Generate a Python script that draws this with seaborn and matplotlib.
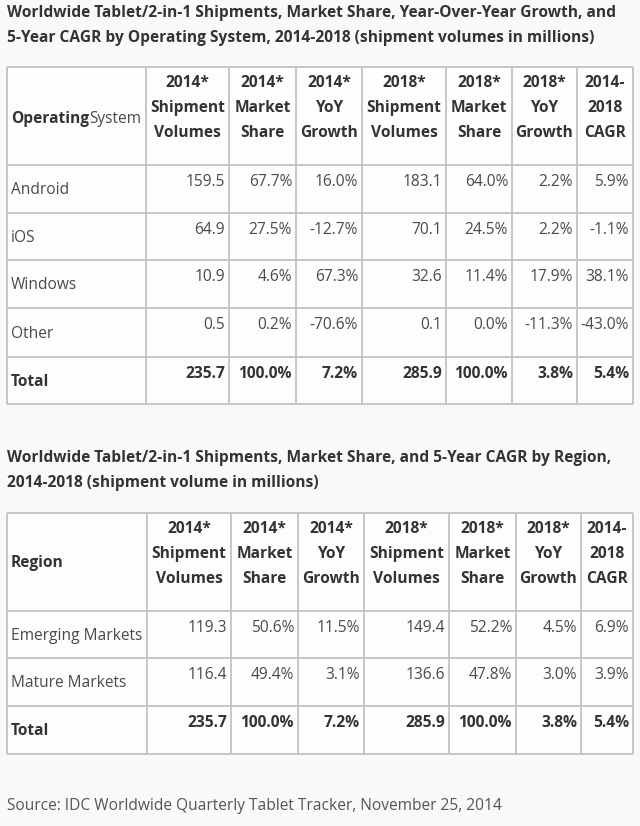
import pandas as pd
import matplotlib.pyplot as plt
import seaborn as sns
from matplotlib.patches import Rectangle

sns.set_theme(style="white")
plt.rcParams["font.family"] = ["Open Sans", "DejaVu Sans"]

# ---------------------------------------------------------
# Data
# ---------------------------------------------------------
col_headers = [
    ["2014*", "Shipment", "Volumes"],
    ["2014*", "Market", "Share"],
    ["2014*", "YoY", "Growth"],
    ["2018*", "Shipment", "Volumes"],
    ["2018*", "Market", "Share"],
    ["2018*", "YoY", "Growth"],
    ["2014-", "2018", "CAGR"],
]
value_kinds = ["vol", "pct", "pct", "vol", "pct", "pct", "pct"]

os_names = ["Android", "iOS", "Windows", "Other"]
os_ship_2014 = [159.5, 64.9, 10.9, 0.5]
os_share_2014 = [67.7, 27.5, 4.6, 0.2]
os_yoy_2014 = [16.0, -12.7, 67.3, -70.6]
os_ship_2018 = [183.1, 70.1, 32.6, 0.1]
os_share_2018 = [64.0, 24.5, 11.4, 0.0]
os_yoy_2018 = [2.2, 2.2, 17.9, -11.3]
os_cagr = [5.9, -1.1, 38.1, -43.0]
os_total = [235.7, 100.0, 7.2, 285.9, 100.0, 3.8, 5.4]

region_names = ["Emerging Markets", "Mature Markets"]
reg_ship_2014 = [119.3, 116.4]
reg_share_2014 = [50.6, 49.4]
reg_yoy_2014 = [11.5, 3.1]
reg_ship_2018 = [149.4, 136.6]
reg_share_2018 = [52.2, 47.8]
reg_yoy_2018 = [4.5, 3.0]
reg_cagr = [6.9, 3.9]
reg_total = [235.7, 100.0, 7.2, 285.9, 100.0, 3.8, 5.4]

title_os = ["Worldwide Tablet/2-in-1 Shipments, Market Share, Year-Over-Year Growth, and",
            "5-Year CAGR by Operating System, 2014-2018 (shipment volumes in millions)"]
title_reg = ["Worldwide Tablet/2-in-1 Shipments, Market Share, and 5-Year CAGR by Region,",
             "2014-2018 (shipment volume in millions)"]
source = "Source: IDC Worldwide Quarterly Tablet Tracker, November 25, 2014"

os_df = pd.DataFrame({
    "name": os_names, "s14": os_ship_2014, "m14": os_share_2014, "y14": os_yoy_2014,
    "s18": os_ship_2018, "m18": os_share_2018, "y18": os_yoy_2018, "cagr": os_cagr,
})
reg_df = pd.DataFrame({
    "name": region_names, "s14": reg_ship_2014, "m14": reg_share_2014, "y14": reg_yoy_2014,
    "s18": reg_ship_2018, "m18": reg_share_2018, "y18": reg_yoy_2018, "cagr": reg_cagr,
})

# ---------------------------------------------------------
# Layout (pixel units, y downwards)
# ---------------------------------------------------------
BG = "#f9f9f9"
LINE = "#c2c2c2"
DARK = "#333333"
TEXT = "#4a4a4a"
FS = 11.2
FSB = 11.2
BOLD = "bold"

fig = plt.figure(figsize=(6.4, 8.26), dpi=100, facecolor=BG)
ax = fig.add_axes([0, 0, 1, 1])
ax.set_xlim(0, 640)
ax.set_ylim(826, 0)
ax.axis("off")
renderer = fig.canvas.get_renderer()


def fmt(v, kind):
    return f"{v:.1f}" if kind == "vol" else f"{v:.1f}%"


def draw_table(df, total, first_label, col_edges, header_top, row_edges, split_label=None):
    left, right = col_edges[0], col_edges[-1]
    top, bottom = header_top, row_edges[-1]
    ax.add_patch(Rectangle((left, top), right - left, bottom - top,
                           facecolor="#fdfdfd", edgecolor="none", zorder=0))
    ax.hlines([top] + list(row_edges), left, right, color=LINE, lw=1.3, zorder=2)
    ax.vlines(col_edges, top, bottom, color=LINE, lw=1.3, zorder=2)

    # header
    header_bottom = row_edges[0]
    ymid = (top + header_bottom) / 2 + 1
    if split_label:
        t = ax.text(left + 4, ymid, split_label[0], fontsize=FSB,
                    fontweight=BOLD, color=DARK, ha="left", va="center_baseline")
        bb = t.get_window_extent(renderer).transformed(ax.transData.inverted())
        ax.text(max(bb.x0, bb.x1), ymid, split_label[1], fontsize=FS,
                color=TEXT, ha="left", va="center_baseline")
    else:
        ax.text(left + 4, ymid, first_label, fontsize=FSB,
                fontweight=BOLD, color=DARK, ha="left", va="center")
    for j, lines in enumerate(col_headers):
        cx = (col_edges[j + 1] + col_edges[j + 2]) / 2
        for k, line in enumerate(lines):
            ax.text(cx, top + 16 + 25 * k, line, fontsize=FSB, fontweight=BOLD,
                    color=DARK, ha="center", va="center")

    # body rows
    cols = ["s14", "m14", "y14", "s18", "m18", "y18", "cagr"]
    rows = [(r["name"], [r[c] for c in cols], False) for _, r in df.iterrows()]
    rows.append(("Total", total, True))
    for i, (name, vals, bold) in enumerate(rows):
        rt, rb = row_edges[i], row_edges[i + 1]
        w = BOLD if bold else "normal"
        col = DARK if bold else TEXT
        fs = FSB if bold else FS
        ax.text(left + 4, (rt + rb) / 2 + 1, name, fontsize=fs, fontweight=w,
                color=col, ha="left", va="center")
        for j, v in enumerate(vals):
            ax.text(col_edges[j + 2] - 4, rt + 17, fmt(v, value_kinds[j]), fontsize=fs,
                    fontweight=w, color=col, ha="right", va="center")


# table 1 - operating systems
for k, line in enumerate(title_os):
    ax.text(7, 13 + 25 * k, line, fontsize=FSB, fontweight=BOLD,
            color=DARK, ha="left", va="center")
draw_table(os_df, os_total, None,
           [7, 146, 229, 296, 362, 446, 512, 577, 633],
           67, [165, 213, 260, 308, 357, 404],
           split_label=("Operating", "System"))

# table 2 - regions
for k, line in enumerate(title_reg):
    ax.text(7, 458 + 25 * k, line, fontsize=FSB, fontweight=BOLD,
            color=DARK, ha="left", va="center")
draw_table(reg_df, reg_total, "Region",
           [7, 147, 231, 298, 364, 449, 516, 581, 633],
           513, [611, 658, 706, 754])

ax.text(7, 806, source, fontsize=FS, color="#555555", ha="left", va="center")

fig.savefig("out.png", dpi=100, facecolor=BG)
